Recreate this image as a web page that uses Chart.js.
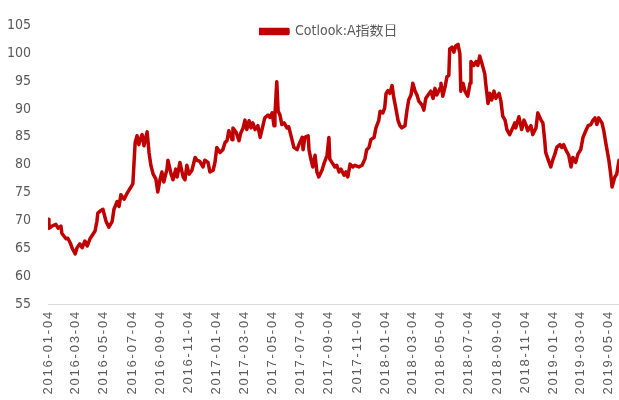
<!DOCTYPE html>
<html><head><meta charset="utf-8">
<script src="https://cdn.jsdelivr.net/npm/chart.js@4/dist/chart.umd.min.js"></script>
<style>html,body{margin:0;padding:0;background:#fff}</style>
</head><body>
<canvas id="c" width="619" height="400"></canvas>
<script>
const seriesName = 'Cotlook:A指数日';
// days since 2016-01-04
const dayOffsets = [0,2,9,17,22,28,30,39,43,48,52,59,63,69,74,80,85,91,95,102,106,108,115,119,126,132,139,143,150,154,158,165,171,176,180,184,189,193,197,199,204,208,212,215,219,223,228,234,238,243,247,251,258,260,267,271,277,280,286,293,297,301,306,312,319,323,329,336,340,347,351,358,362,366,373,379,384,388,392,399,401,408,414,418,423,427,431,436,440,444,449,455,460,466,470,477,481,486,490,492,496,499,503,507,512,518,522,529,533,540,544,551,553,557,564,566,570,574,579,583,587,594,598,605,609,611,618,622,626,631,635,642,646,650,655,661,665,674,681,687,691,696,700,707,711,717,720,726,730,733,737,741,746,750,754,759,763,767,774,778,782,787,791,796,800,804,811,815,819,824,830,835,839,843,850,852,856,861,865,869,871,876,880,884,889,893,895,900,904,910,915,917,923,928,932,936,941,947,949,954,958,962,967,971,978,982,986,991,995,1001,1006,1012,1014,1021,1027,1032,1036,1040,1047,1051,1058,1062,1069,1073,1077,1079,1084,1090,1095,1099,1103,1110,1114,1118,1123,1129,1134,1138,1144,1149,1155,1160,1166,1171,1177,1181,1186,1190,1194,1201,1205,1210,1216,1220,1223,1229,1233,1238];
const values = [70.2,68.6,69.0,69.3,68.6,69.0,67.7,66.7,66.8,66.0,65.1,64.0,65.1,65.8,65.1,66.3,65.4,66.7,67.2,68.1,69.8,71.3,71.8,72.0,69.8,68.8,69.8,72.0,73.4,72.5,74.6,73.8,74.8,75.5,76.0,76.6,84.0,85.2,83.6,84.3,85.4,83.4,84.9,85.9,82.2,79.9,78.3,77.4,75.1,77.4,78.7,76.9,79.2,80.8,78.3,77.3,79.2,77.8,80.4,77.8,77.3,79.9,78.3,79.0,81.3,80.8,80.6,79.6,80.8,80.4,78.7,79.0,80.4,83.1,82.2,82.7,84.0,84.3,86.1,84.5,86.6,85.8,84.3,85.7,86.6,88.0,86.3,87.9,86.6,87.5,86.3,87.0,84.9,87.0,88.4,88.9,88.5,89.3,87.0,88.9,94.9,89.6,88.9,87.2,87.5,86.6,86.8,84.5,83.1,82.7,83.6,84.9,82.7,84.9,85.2,82.6,81.0,79.6,81.7,78.7,77.8,79.0,80.1,81.7,84.9,81.0,80.1,79.6,79.9,78.7,79.2,78.1,78.7,77.8,80.1,79.6,79.9,79.6,79.9,81.0,82.7,83.1,84.5,84.9,86.6,87.9,89.6,89.3,90.2,92.8,93.3,92.8,94.2,91.9,90.2,87.9,87.0,86.6,87.0,89.6,91.6,92.5,94.6,93.2,92.5,91.4,90.7,89.8,91.9,92.5,93.2,91.9,93.7,92.5,93.7,94.6,92.3,94.0,95.8,96.0,100.8,101.1,100.2,101.3,101.6,99.9,93.2,94.6,93.2,92.3,94.6,98.5,97.8,98.5,97.8,99.5,98.1,96.3,94.6,91.0,92.8,91.6,93.2,91.9,92.8,91.4,88.7,88.0,86.3,85.4,86.3,87.5,86.6,88.6,86.3,88.0,87.2,86.1,87.0,85.4,86.6,89.3,88.0,87.5,84.3,82.2,81.0,79.6,81.0,81.9,83.1,83.6,83.1,83.6,82.6,81.7,79.6,81.3,80.4,81.9,82.7,84.9,86.1,87.0,87.2,87.9,88.4,87.2,88.4,87.5,86.1,83.6,80.8,78.3,76.0,77.8,78.3,80.8];
const yTicks = [55,60,65,70,75,80,85,90,95,100,105];
const tickLabels = ['2016-01-04','2016-03-04','2016-05-04','2016-07-04','2016-09-04','2016-11-04','2017-01-04','2017-03-04','2017-05-04','2017-07-04','2017-09-04','2017-11-04','2018-01-04','2018-03-04','2018-05-04','2018-07-04','2018-09-04','2018-11-04','2019-01-04','2019-03-04','2019-05-04'];

const baseDate = Date.UTC(2016,0,4);
const tickDays = tickLabels.map(s => { const p = s.split('-').map(Number); return Math.round((Date.UTC(p[0],p[1]-1,p[2]) - baseDate)/864e5); });
const points = dayOffsets.map((d,i) => ({x:d, y:values[i]}));

const narrow = "'Liberation Sans Narrow','DejaVu Sans Condensed','Noto Sans CJK SC',sans-serif";

const legendMover = {
  id:'legendMover',
  afterLayout(chart){
    const lg = chart.legend; if(!lg) return;
    const w = lg.width;
    lg.left = 259; lg.right = lg.left + w;
    lg.top = 31.5 - 7; lg.bottom = lg.top + 20;
  }
};
const letterSpacer = {
  id:'letterSpacer',
  afterDatasetsDraw(chart){ chart.ctx.letterSpacing = '1.8px'; },
  afterDraw(chart){ chart.ctx.letterSpacing = '0px'; }
};

new Chart(document.getElementById('c'), {
  type:'line',
  data:{datasets:[{label:seriesName,data:points,borderColor:'#C00000',backgroundColor:'#C00000',borderWidth:3.5,pointRadius:0,tension:0,borderJoinStyle:'round',borderCapStyle:'round'}]},
  options:{
    responsive:false,
    animation:false,
    layout:{padding:{top:21,right:0,bottom:0,left:0}},
    scales:{
      x:{type:'linear',min:0,max:dayOffsets[dayOffsets.length-1],
        afterBuildTicks:s => { s.ticks = tickDays.map(v => ({value:v})); },
        afterFit:s => { s.height = 96; s.paddingLeft = 0; s.paddingRight = 0; },
        grid:{display:false,drawTicks:false},
        border:{display:true,color:'#d9d9d9',width:1},
        ticks:{autoSkip:false,minRotation:90,maxRotation:90,padding:6,color:'#595959',z:1,
          font:{family:"'Liberation Sans',Arial,sans-serif",size:13},
          callback:(v,i) => tickLabels[i]}},
      y:{min:55,max:105,
        afterBuildTicks:s => { s.ticks = yTicks.map(v => ({value:v})); },
        afterFit:s => { s.width = 48; },
        grid:{display:false,drawTicks:false},
        border:{display:false},
        ticks:{padding:17,color:'#595959',font:{family:narrow,size:14}}}
    },
    plugins:{
      legend:{position:'chartArea',align:'start',
        labels:{boxWidth:29,boxHeight:4,padding:0,color:'#595959',font:{family:narrow,size:14}}},
      tooltip:{enabled:false}
    }
  },
  plugins:[legendMover,letterSpacer]
});
</script>
</body></html>
